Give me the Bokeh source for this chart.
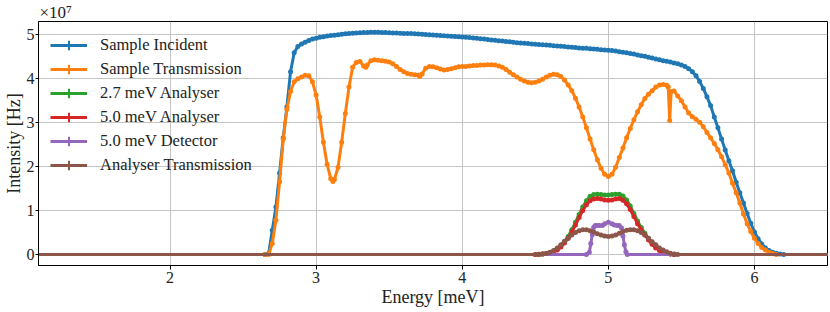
import numpy as np
from bokeh.plotting import figure
from bokeh.models import Range1d, FixedTicker, Legend, LegendItem
from bokeh.embed import file_html
from bokeh.resources import INLINE

# ---------------- data (intensity in units of 1e7 Hz) ----------------
series_names = ["Sample Incident", "Sample Transmission", "2.7 meV Analyser",
                "5.0 meV Analyser", "5.0 meV Detector", "Analyser Transmission"]

incident_energy = [1.0, 2.65, 2.675, 2.7, 2.725, 2.75, 2.775, 2.8, 2.825, 2.85, 2.875, 2.9, 2.925, 2.95, 2.975,
                   3.0, 3.025, 3.05, 3.075, 3.1, 3.125, 3.15, 3.175, 3.2, 3.225, 3.25, 3.275, 3.3, 3.325, 3.35,
                   3.375, 3.4, 3.425, 3.45, 3.475, 3.5, 3.525, 3.55, 3.575, 3.6, 3.625, 3.65, 3.675, 3.7, 3.725,
                   3.75, 3.775, 3.8, 3.825, 3.85, 3.875, 3.9, 3.925, 3.95, 3.975, 4.0, 4.025, 4.05, 4.075, 4.1,
                   4.125, 4.15, 4.175, 4.2, 4.225, 4.25, 4.275, 4.3, 4.325, 4.35, 4.375, 4.4, 4.425, 4.45, 4.475,
                   4.5, 4.525, 4.55, 4.575, 4.6, 4.625, 4.65, 4.675, 4.7, 4.725, 4.75, 4.775, 4.8, 4.825, 4.85,
                   4.875, 4.9, 4.925, 4.95, 4.975, 5.0, 5.025, 5.05, 5.075, 5.1, 5.125, 5.15, 5.175, 5.2, 5.225,
                   5.25, 5.275, 5.3, 5.325, 5.35, 5.375, 5.4, 5.425, 5.45, 5.475, 5.5, 5.525, 5.55, 5.575, 5.6,
                   5.625, 5.65, 5.675, 5.7, 5.725, 5.75, 5.775, 5.8, 5.825, 5.85, 5.875, 5.9, 5.925, 5.95, 5.975,
                   6.0, 6.025, 6.05, 6.075, 6.1, 6.125, 6.15, 6.175, 6.2, 6.6]
incident_intensity = [0.0, 0.0, 0.02, 0.55, 1.08, 1.85, 2.65, 3.35, 4.15, 4.58, 4.72, 4.78, 4.82, 4.86, 4.89,
                      4.91, 4.93, 4.945, 4.96, 4.97, 4.98, 4.99, 5.0, 5.01, 5.02, 5.025, 5.03, 5.035, 5.04, 5.04,
                      5.045, 5.045, 5.045, 5.04, 5.04, 5.035, 5.03, 5.03, 5.025, 5.02, 5.02, 5.015, 5.01, 5.005, 5.0,
                      4.995, 4.99, 4.985, 4.98, 4.97, 4.965, 4.96, 4.955, 4.95, 4.945, 4.94, 4.93, 4.925, 4.915, 4.91,
                      4.9, 4.89, 4.88, 4.87, 4.865, 4.855, 4.845, 4.835, 4.83, 4.82, 4.81, 4.8, 4.795, 4.79, 4.78,
                      4.775, 4.77, 4.76, 4.755, 4.75, 4.74, 4.735, 4.73, 4.72, 4.71, 4.705, 4.7, 4.69, 4.685, 4.68,
                      4.67, 4.665, 4.66, 4.65, 4.645, 4.64, 4.63, 4.62, 4.605, 4.59, 4.58, 4.565, 4.55, 4.53, 4.515,
                      4.5, 4.48, 4.46, 4.44, 4.42, 4.4, 4.385, 4.37, 4.35, 4.33, 4.3, 4.27, 4.22, 4.15, 4.06,
                      3.93, 3.77, 3.58, 3.38, 3.12, 2.88, 2.62, 2.37, 2.13, 1.9, 1.64, 1.4, 1.17, 0.93, 0.71,
                      0.51, 0.36, 0.24, 0.15, 0.09, 0.05, 0.03, 0.01, 0.0, 0.0]

transmission_energy = [1.0, 2.65, 2.675, 2.7, 2.725, 2.75, 2.775, 2.8, 2.825, 2.85, 2.875, 2.9, 2.925, 2.95, 2.975,
                       3.0, 3.025, 3.05, 3.075, 3.1, 3.115, 3.125, 3.15, 3.175, 3.2, 3.225, 3.25, 3.275, 3.3, 3.325,
                       3.34, 3.35, 3.375, 3.4, 3.425, 3.45, 3.475, 3.5, 3.525, 3.55, 3.575, 3.6, 3.625, 3.65, 3.675,
                       3.7, 3.71, 3.725, 3.75, 3.775, 3.8, 3.825, 3.85, 3.875, 3.9, 3.925, 3.95, 3.975, 4.0, 4.025,
                       4.05, 4.075, 4.1, 4.125, 4.15, 4.175, 4.2, 4.225, 4.25, 4.275, 4.3, 4.325, 4.35, 4.375, 4.4,
                       4.425, 4.45, 4.475, 4.5, 4.525, 4.55, 4.575, 4.6, 4.625, 4.65, 4.675, 4.7, 4.725, 4.75, 4.775,
                       4.8, 4.825, 4.85, 4.875, 4.9, 4.925, 4.95, 4.975, 5.0, 5.025, 5.05, 5.075, 5.1, 5.125, 5.15,
                       5.175, 5.2, 5.225, 5.25, 5.275, 5.3, 5.325, 5.35, 5.375, 5.4, 5.41, 5.42, 5.43, 5.45, 5.475,
                       5.5, 5.525, 5.55, 5.575, 5.6, 5.625, 5.65, 5.675, 5.7, 5.725, 5.75, 5.775, 5.8, 5.825, 5.85,
                       5.875, 5.9, 5.925, 5.95, 5.975, 6.0, 6.025, 6.05, 6.075, 6.1, 6.125, 6.15, 6.6]
transmission_intensity = [0.0, 0.0, 0.0, 0.25, 0.78, 1.65, 2.62, 3.3, 3.7, 3.92, 3.99, 4.03, 4.07, 4.06, 3.92,
                          3.62, 3.12, 2.55, 2.05, 1.72, 1.66, 1.7, 1.98, 2.55, 3.2, 3.8, 4.25, 4.36, 4.38, 4.28,
                          4.25, 4.3, 4.4, 4.42, 4.41, 4.4, 4.39, 4.37, 4.33, 4.27, 4.2, 4.15, 4.11, 4.09, 4.08,
                          4.07, 4.04, 4.1, 4.23, 4.27, 4.26, 4.24, 4.21, 4.19, 4.2, 4.22, 4.24, 4.26, 4.27, 4.27,
                          4.28, 4.29, 4.29, 4.3, 4.3, 4.31, 4.31, 4.3, 4.28, 4.25, 4.2, 4.14, 4.08, 4.03, 3.98,
                          3.94, 3.91, 3.9, 3.91, 3.94, 3.98, 4.03, 4.07, 4.09, 4.08, 4.04, 3.96, 3.85, 3.72, 3.55,
                          3.35, 3.12, 2.88, 2.62, 2.38, 2.15, 1.96, 1.82, 1.77, 1.82, 1.98, 2.2, 2.42, 2.65, 2.86,
                          3.06, 3.24, 3.4, 3.54, 3.64, 3.72, 3.8, 3.85, 3.86, 3.84, 3.8, 3.04, 3.7, 3.71, 3.6,
                          3.49, 3.35, 3.21, 3.13, 3.07, 3.0, 2.9, 2.77, 2.65, 2.52, 2.38, 2.22, 2.04, 1.85, 1.62,
                          1.4, 1.17, 0.92, 0.7, 0.52, 0.37, 0.25, 0.16, 0.1, 0.05, 0.02, 0.0, 0.0]

analyser27_energy = [1.0, 4.5, 4.525, 4.55, 4.575, 4.6, 4.625, 4.65, 4.675, 4.7, 4.725, 4.75, 4.775, 4.8, 4.825,
                     4.85, 4.875, 4.9, 4.925, 4.95, 4.975, 5.0, 5.025, 5.05, 5.075, 5.1, 5.125, 5.15, 5.175, 5.2,
                     5.225, 5.25, 5.275, 5.3, 5.325, 5.35, 5.375, 5.4, 5.425, 5.45, 6.6]
analyser27_intensity = [0.0, 0.0, 0.005, 0.01, 0.02, 0.04, 0.07, 0.12, 0.19, 0.29, 0.41, 0.56, 0.73, 0.91, 1.08,
                        1.22, 1.32, 1.36, 1.37, 1.36, 1.35, 1.35, 1.36, 1.37, 1.37, 1.33, 1.24, 1.1, 0.93, 0.76,
                        0.61, 0.48, 0.36, 0.25, 0.16, 0.1, 0.05, 0.025, 0.01, 0.0, 0.0]

analyser50_energy = [1.0, 4.5, 4.525, 4.55, 4.575, 4.6, 4.625, 4.65, 4.675, 4.7, 4.725, 4.75, 4.775, 4.8, 4.825,
                     4.85, 4.875, 4.9, 4.925, 4.95, 4.975, 5.0, 5.025, 5.05, 5.075, 5.1, 5.125, 5.15, 5.175, 5.2,
                     5.225, 5.25, 5.275, 5.3, 5.325, 5.35, 5.375, 5.4, 5.425, 5.45, 6.6]
analyser50_intensity = [0.0, 0.0, 0.005, 0.01, 0.02, 0.035, 0.06, 0.1, 0.17, 0.26, 0.37, 0.51, 0.67, 0.84, 1.0,
                        1.13, 1.22, 1.26, 1.27, 1.26, 1.24, 1.23, 1.24, 1.26, 1.27, 1.23, 1.15, 1.02, 0.86, 0.7,
                        0.56, 0.44, 0.33, 0.23, 0.15, 0.09, 0.05, 0.025, 0.01, 0.0, 0.0]

detector_energy = [1.0, 4.85, 4.87, 4.88, 4.89, 4.9, 4.91, 4.925, 4.94, 4.96, 4.975, 5.0, 5.025, 5.04, 5.06,
                   5.075, 5.09, 5.1, 5.11, 5.12, 5.13, 6.6]
detector_intensity = [0.0, 0.0, 0.05, 0.25, 0.45, 0.62, 0.66, 0.66, 0.66, 0.66, 0.7, 0.73, 0.7, 0.67, 0.66,
                      0.66, 0.6, 0.42, 0.22, 0.06, 0.0, 0.0]

analyser_trans_energy = [1.0, 4.525, 4.55, 4.575, 4.6, 4.625, 4.65, 4.675, 4.7, 4.725, 4.75, 4.775, 4.8, 4.825,
                         4.85, 4.875, 4.9, 4.925, 4.95, 4.975, 5.0, 5.025, 5.05, 5.075, 5.1, 5.125, 5.15, 5.175,
                         5.2, 5.225, 5.25, 5.275, 5.3, 5.325, 5.35, 5.375, 5.4, 5.425, 5.45, 5.475, 6.6]
analyser_trans_intensity = [0.0, 0.0, 0.01, 0.02, 0.05, 0.09, 0.15, 0.22, 0.3, 0.37, 0.44, 0.5, 0.54, 0.56,
                            0.56, 0.54, 0.51, 0.47, 0.44, 0.42, 0.41, 0.42, 0.44, 0.48, 0.52, 0.55, 0.56, 0.56,
                            0.54, 0.5, 0.44, 0.37, 0.29, 0.22, 0.15, 0.1, 0.06, 0.03, 0.01, 0.0, 0.0]

x_ticks = [2, 3, 4, 5, 6]
y_ticks = [0, 1, 2, 3, 4, 5]
scale_text = "×10⁷"
colors = ["#1f77b4", "#ff7f0e", "#2ca02c", "#d62728", "#9467bd", "#8c564b"]

x_lo, x_hi = 1.1, 6.5
y_lo, y_hi = -0.25, 5.29

# ---------------- figure ----------------
FONT = "Liberation Serif"
p = figure(width=828, height=309, output_backend="svg", toolbar_location=None,
           title=scale_text,
           x_range=Range1d(x_lo, x_hi), y_range=Range1d(y_lo, y_hi),
           min_border_left=37, min_border_right=1, min_border_top=0, min_border_bottom=44)
p.background_fill_color = "white"
p.border_fill_color = "white"
p.outline_line_color = "black"
p.outline_line_width = 1
p.outline_line_alpha = 1.0

p.title.text_font = FONT
p.title.text_font_size = "17px"
p.title.text_font_style = "normal"
p.title.text_color = "#222222"
p.title.align = "left"
p.title.offset = 1
p.title.standoff = 0

for ax in (p.xaxis[0], p.yaxis[0]):
    ax.axis_line_color = "black"
    ax.axis_line_width = 1
    ax.major_tick_in = 0
    ax.major_tick_out = 4
    ax.minor_tick_in = 0
    ax.minor_tick_out = 0
    ax.major_tick_line_color = "black"
    ax.major_label_text_font = FONT
    ax.major_label_text_font_size = "16px"
    ax.major_label_text_color = "#222222"
    ax.axis_label_text_font = FONT
    ax.axis_label_text_font_size = "18px"
    ax.axis_label_text_font_style = "normal"
    ax.axis_label_text_color = "#222222"

p.xaxis.ticker = FixedTicker(ticks=x_ticks)
p.yaxis.ticker = FixedTicker(ticks=y_ticks)
p.xaxis.axis_label = "Energy [meV]"
p.yaxis.axis_label = "Intensity [Hz]"
p.xaxis.major_label_standoff = 2
p.yaxis.major_label_standoff = 1
p.xaxis.axis_label_standoff = 1
p.yaxis.axis_label_standoff = 0
p.yaxis.major_tick_out = 3

p.xgrid.ticker = FixedTicker(ticks=x_ticks)
p.ygrid.ticker = FixedTicker(ticks=y_ticks)
for g in (p.xgrid[0], p.ygrid[0]):
    g.grid_line_color = "#c4c4c4"
    g.grid_line_width = 1

all_series = [
    (incident_energy, incident_intensity),
    (transmission_energy, transmission_intensity),
    (analyser27_energy, analyser27_intensity),
    (analyser50_energy, analyser50_intensity),
    (detector_energy, detector_intensity),
    (analyser_trans_energy, analyser_trans_intensity),
]

items = []
for name, (xs, ys), c in zip(series_names, all_series, colors):
    ln = p.line(xs, ys, line_color=c, line_width=3)
    p.scatter(xs, ys, marker="circle", size=5, fill_color=c, line_color=c, line_width=0)
    # error-bar style legend handle (its one point lies outside the visible x range)
    handle = p.scatter(xs[:1], ys[:1], marker="cross", size=17, line_color=c, line_width=2)
    items.append(LegendItem(label=name, renderers=[ln, handle]))

legend = Legend(items=items, location="top_left")
legend.background_fill_alpha = 0
legend.border_line_alpha = 0
legend.label_text_font = FONT
legend.label_text_font_size = "16.5px"
legend.label_text_color = "#222222"
legend.glyph_width = 37
legend.glyph_height = 24
legend.label_height = 20
legend.spacing = 0
legend.padding = 0
legend.margin = 12
legend.label_standoff = 13
p.add_layout(legend)

open("out.html", "w").write(file_html(p, INLINE))
